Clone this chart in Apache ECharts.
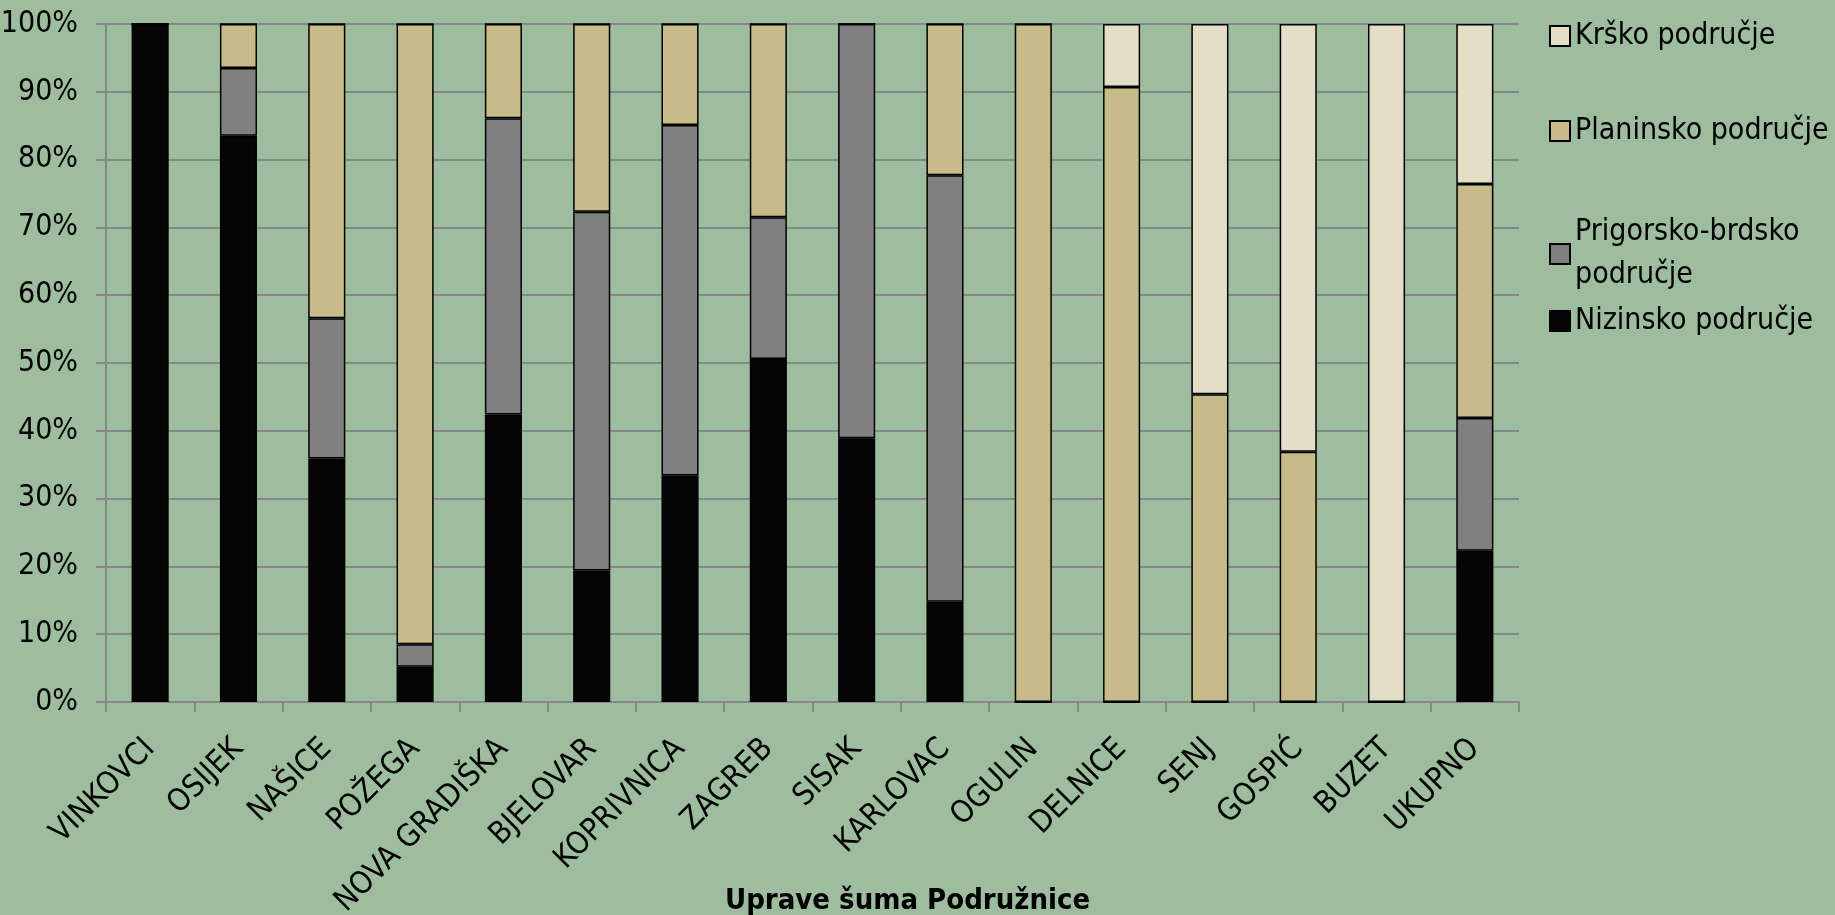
<!DOCTYPE html>
<html>
<head>
<meta charset="utf-8">
<script src="https://cdn.jsdelivr.net/npm/echarts@6/dist/echarts.min.js"></script>
<style>
  html, body { margin: 0; padding: 0; background: #9dbd9e; }
  #chart { width: 1835px; height: 915px; }
</style>
</head>
<body>
<div id="chart"></div>
<script>
// Data (percent shares per branch)
const categories = ['VINKOVCI', 'OSIJEK', 'NAŠICE', 'POŽEGA', 'NOVA GRADIŠKA', 'BJELOVAR',
  'KOPRIVNICA', 'ZAGREB', 'SISAK', 'KARLOVAC', 'OGULIN', 'DELNICE', 'SENJ', 'GOSPIĆ', 'BUZET', 'UKUPNO'];
const nizinsko = [100, 83.5, 35.9, 5.2, 42.4, 19.4, 33.4, 50.6, 38.9, 14.8, 0, 0, 0, 0, 0, 22.3];
const prigorsko = [0, 10.0, 20.7, 3.3, 43.7, 52.9, 51.7, 20.9, 61.1, 62.9, 0, 0, 0, 0, 0, 19.6];
const planinsko = [0, 6.5, 43.4, 91.5, 13.9, 27.7, 14.9, 28.5, 0, 22.3, 100, 90.7, 45.4, 36.9, 0, 34.5];
const krsko = [0, 0, 0, 0, 0, 0, 0, 0, 0, 0, 0, 9.3, 54.6, 63.1, 100, 23.6];
const yTicks = [0, 10, 20, 30, 40, 50, 60, 70, 80, 90, 100];

const FONT = "'Liberation Sans Narrow', 'DejaVu Sans Condensed', sans-serif";
const GRID_GREY = '#878787';

const chart = echarts.init(document.getElementById('chart'));

function barSeries(name, data, color) {
  return {
    name: name,
    type: 'bar',
    stack: 'total',
    barWidth: '42%',
    data: data,
    itemStyle: { color: color, borderColor: '#000', borderWidth: 1.5 },
  };
}

function legendFor(name, top, extra) {
  return Object.assign({
    data: [name],
    orient: 'vertical',
    left: 1544,
    top: top,
    icon: 'rect',
    itemWidth: 20,
    itemHeight: 20,
    itemGap: 6,
    textStyle: { fontFamily: FONT, fontSize: 30, color: '#000' },
  }, extra || {});
}

const option = {
  backgroundColor: '#9dbd9e',
  animation: false,
  title: {
    text: 'Uprave šuma Podružnice',
    left: 720,
    top: 882,
    textStyle: { fontFamily: FONT, fontSize: 29, fontWeight: 'bold', color: '#000' },
  },
  legend: [
    legendFor('Krško područje', 16),
    legendFor('Planinsko područje', 111),
    legendFor('Prigorsko-brdsko područje', 206, {
      formatter: function () { return 'Prigorsko-brdsko\npodručje'; },
      textStyle: { fontFamily: FONT, fontSize: 30, color: '#000', lineHeight: 43 },
    }),
    legendFor('Nizinsko područje', 301),
  ],
  grid: { left: 106, right: 316, top: 24, bottom: 213, containLabel: false, outerBoundsMode: 'none' },
  xAxis: {
    type: 'category',
    data: categories,
    axisLine: { lineStyle: { color: GRID_GREY, width: 2 } },
    axisTick: { show: true, length: 10, lineStyle: { color: GRID_GREY, width: 2 } },
    axisLabel: {
      rotate: 45,
      margin: 42,
      interval: 0,
      fontFamily: FONT,
      fontSize: 31,
      color: '#000',
    },
  },
  yAxis: {
    type: 'value',
    min: yTicks[0],
    max: yTicks[yTicks.length - 1],
    interval: 10,
    axisLine: { show: true, lineStyle: { color: GRID_GREY, width: 2 } },
    axisTick: { show: true, length: 10, lineStyle: { color: GRID_GREY, width: 2 } },
    splitLine: { lineStyle: { color: GRID_GREY, width: 2 } },
    axisLabel: {
      formatter: '{value}%',
      margin: 28,
      fontFamily: FONT,
      fontSize: 30,
      color: '#000',
    },
  },
  series: [
    barSeries('Nizinsko područje', nizinsko, '#050505'),
    barSeries('Prigorsko-brdsko područje', prigorsko, '#808080'),
    barSeries('Planinsko područje', planinsko, '#c6bb89'),
    barSeries('Krško područje', krsko, '#e4dec6'),
  ],
};

chart.setOption(option);

window.addEventListener('resize', () => {
  chart.resize();
});
</script>
</body>
</html>
